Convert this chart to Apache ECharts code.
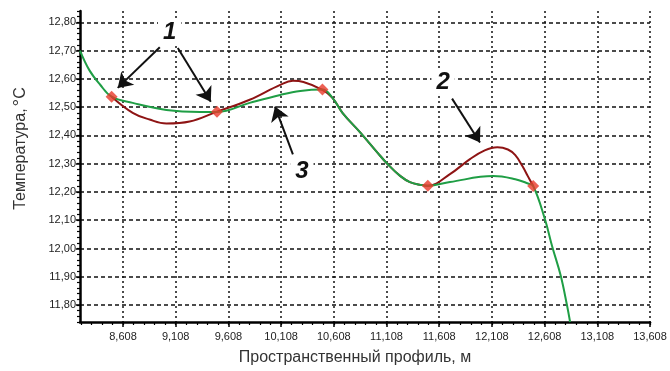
<!DOCTYPE html>
<html>
<head>
<meta charset="utf-8">
<script src="https://cdn.jsdelivr.net/npm/echarts@6/dist/echarts.min.js"></script>
<style>
  html, body { margin: 0; background: #fff; }
  #chart { width: 670px; height: 371px; }
</style>
</head>
<body>
<div id="chart"></div>
<script>
// температурный профиль: x - пространственный профиль, м; y - температура
var xTicks = [8.608, 9.108, 9.608, 10.108, 10.608, 11.108, 11.608, 12.108, 12.608, 13.108, 13.608]
var yTicks = [11.8, 11.9, 12.0, 12.1, 12.2, 12.3, 12.4, 12.5, 12.6, 12.7, 12.8]

// 3 - green curve
var greenLine = [
  [8.2, 12.70], [8.29, 12.63], [8.39, 12.58], [8.5, 12.537], [8.70, 12.515],
  [9.02, 12.49], [9.34, 12.483], [9.5, 12.483], [9.81, 12.515], [10.10, 12.543],
  [10.29, 12.557], [10.5, 12.562], [10.595, 12.533], [10.69, 12.48], [10.86, 12.41],
  [11.02, 12.34], [11.12, 12.298], [11.24, 12.256], [11.33, 12.235], [11.43, 12.225],
  [11.5, 12.222], [11.71, 12.235], [12.12, 12.256], [12.33, 12.245], [12.45, 12.23],
  [12.5, 12.221], [12.61, 12.105], [12.68, 12.007], [12.76, 11.905], [12.82, 11.80],
  [12.85, 11.74]
]
// 2 - dark red curve
var redLine = [
  [8.5, 12.537], [8.70, 12.48], [8.86, 12.456], [9.02, 12.442], [9.24, 12.449],
  [9.5, 12.484], [9.81, 12.526], [10.10, 12.579], [10.22, 12.593], [10.32, 12.589],
  [10.5, 12.561], [10.595, 12.533], [10.69, 12.48], [10.86, 12.41], [11.02, 12.34],
  [11.12, 12.298], [11.24, 12.256], [11.33, 12.235], [11.43, 12.225], [11.5, 12.222],
  [11.71, 12.263], [11.9, 12.316], [12.04, 12.347], [12.16, 12.358], [12.26, 12.35],
  [12.33, 12.33], [12.40, 12.29], [12.45, 12.255], [12.5, 12.221]
]
// 1 - measured points
var points = [[8.5, 12.537], [9.5, 12.484], [10.5, 12.562], [11.5, 12.222], [12.5, 12.221]]

// callout arrows and numbers
var arrows = [
  [[8.957, 12.712], [8.558, 12.568]],
  [[9.128, 12.709], [9.441, 12.519]],
  [[10.22, 12.333], [10.05, 12.502]],
  [[11.73, 12.53], [11.995, 12.375]]
]
var numbers = [[9.051, 12.765, '1'], [11.645, 12.589, '2'], [10.305, 12.274, '3']]

var xMinor = []
for (var i = 0; i < 55; i++) xMinor.push(+(8.208 + i * 0.1).toFixed(3))
var yMinor = []
for (var j = 0; j <= 55; j++) yMinor.push(+(11.74 + j * 0.02).toFixed(2))

var font = 'Liberation Sans, Arial, sans-serif'
var black = '#111'

var chartDom = document.getElementById('chart')
var myChart = echarts.init(chartDom)
var option

option = {
  animation: false,
  grid: { left: 80, right: 20, top: 11, bottom: 47 },
  xAxis: [{
    type: 'value',
    min: 8.2,
    max: 13.608,
    name: 'Пространственный профиль, м',
    nameLocation: 'middle',
    nameGap: 28,
    nameTextStyle: { fontFamily: font, fontSize: 16, color: '#333', padding: [0, 20, 0, 0] },
    axisLine: { lineStyle: { color: '#000', width: 2.5 } },
    axisTick: { customValues: xTicks, length: 5, lineStyle: { color: '#000', width: 1.5 } },
    axisLabel: {
      customValues: xTicks,
      margin: 9,
      fontFamily: font,
      fontSize: 11,
      color: '#222',
      formatter: function (v) { return v.toFixed(3).replace('.', ',') }
    },
    splitLine: { show: true, lineStyle: { color: black, width: 1.5, type: [2, 3] } }
  }, {
    type: 'value',
    min: 8.2,
    max: 13.608,
    position: 'bottom',
    axisLine: { show: false },
    axisTick: { customValues: xMinor, length: 3, lineStyle: { color: '#000', width: 1.2 } },
    axisLabel: { show: false },
    splitLine: { show: false }
  }],
  yAxis: [{
    type: 'value',
    min: 11.74,
    max: 12.84,
    name: 'Температура,{s|°}C',
    nameLocation: 'middle',
    nameGap: 50,
    nameTextStyle: {
      fontFamily: font,
      fontSize: 16,
      color: '#333',
      padding: [0, 0, 0, 36],
      rich: { s: { fontFamily: font, fontSize: 19, color: '#333', padding: [0, 0, 0, 2] } }
    },
    axisLine: { show: true, lineStyle: { color: '#000', width: 2.5 } },
    axisTick: { customValues: yTicks, length: 4, lineStyle: { color: '#000', width: 1.5 } },
    axisLabel: {
      customValues: yTicks,
      margin: 4,
      fontFamily: font,
      fontSize: 11,
      color: '#222',
      formatter: function (v) { return v.toFixed(2).replace('.', ',') }
    },
    splitLine: { show: true, lineStyle: { color: black, width: 1.5, type: [4, 3] } }
  }, {
    type: 'value',
    min: 11.74,
    max: 12.84,
    position: 'left',
    axisLine: { show: false },
    axisTick: { customValues: yMinor, length: 3, lineStyle: { color: '#000', width: 1.2 } },
    axisLabel: { show: false },
    splitLine: { show: false }
  }],
  series: [{
    type: 'line',
    data: redLine,
    smooth: 0.4,
    showSymbol: false,
    lineStyle: { color: '#8e1414', width: 2 }
  }, {
    type: 'line',
    data: greenLine,
    smooth: 0.4,
    showSymbol: false,
    lineStyle: { color: '#1f9e45', width: 2 }
  }, {
    type: 'scatter',
    data: points,
    z: 5,
    symbol: 'diamond',
    symbolSize: 12,
    itemStyle: { color: '#e8392a' },
    silent: true,
    markLine: {
      silent: true,
      symbol: ['none', 'arrow'],
      symbolSize: 14,
      lineStyle: { color: black, width: 2, type: 'solid' },
      label: { show: false },
      data: arrows.map(function (a) {
        return [{ coord: a[0] }, { coord: a[1] }]
      })
    },
    markPoint: {
      silent: true,
      symbol: 'rect',
      symbolSize: 1,
      itemStyle: { color: 'rgba(0,0,0,0)' },
      label: {
        show: true,
        position: 'inside',
        formatter: '{b}',
        fontFamily: font,
        fontSize: 24,
        fontWeight: 'bold',
        fontStyle: 'italic',
        color: black,
        backgroundColor: '#fff',
        padding: [0, 5]
      },
      data: numbers.map(function (n) {
        return { coord: [n[0], n[1]], name: n[2] }
      })
    }
  }]
}

option && myChart.setOption(option)
window.addEventListener('resize', () => myChart.resize())
</script>
</body>
</html>
